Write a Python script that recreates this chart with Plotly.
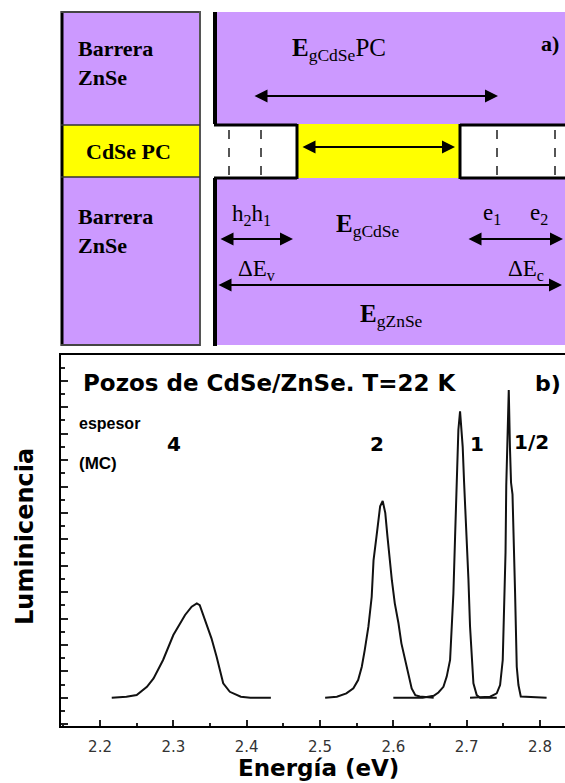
import plotly.graph_objects as go

W, H = 565, 783

# ---------------- data ----------------
energy_4 = [2.216, 2.236, 2.250, 2.264, 2.273, 2.286, 2.300, 2.316, 2.325, 2.332,
            2.336, 2.343, 2.352, 2.359, 2.368, 2.377, 2.392, 2.405, 2.433]
lum_4 = [0.0, 0.08, 0.2, 0.83, 1.47, 2.86, 4.75, 6.27, 6.9, 7.15,
         7.02, 5.89, 4.5, 3.1, 1.09, 0.45, 0.08, 0.0, 0.0]

energy_2 = [2.507, 2.523, 2.536, 2.5455, 2.552, 2.557, 2.561, 2.566, 2.5705, 2.573,
            2.577, 2.582, 2.5855, 2.589, 2.592, 2.595, 2.598, 2.602, 2.607, 2.611,
            2.616, 2.6205, 2.625, 2.630, 2.636, 2.655]
lum_2 = [0.0, 0.08, 0.33, 0.71, 1.34, 2.35, 3.61, 5.38, 7.65, 10.4,
         12.2, 14.5, 14.9, 14.0, 12.2, 10.4, 8.9, 7.15, 5.64, 4.12,
         2.86, 1.59, 0.71, 0.2, 0.1, 0.0]

energy_1 = [2.600, 2.640, 2.655, 2.6615, 2.6683, 2.6728, 2.6774, 2.6796, 2.6819, 2.6842,
            2.6865, 2.6887, 2.691, 2.6946, 2.6965, 2.7001, 2.7024, 2.7046, 2.7069, 2.7092,
            2.7137, 2.7183, 2.741]
lum_1 = [0.0, 0.0, 0.15, 0.4, 0.83, 1.6, 2.86, 5.4, 7.9, 12.2,
         16.7, 20.3, 21.7, 19.0, 16.3, 12.2, 9.0, 5.4, 2.86, 1.1,
         0.2, 0.0, 0.0]

energy_half = [2.7046, 2.732, 2.741, 2.7456, 2.7492, 2.751, 2.753, 2.754, 2.756, 2.7574,
               2.759, 2.7605, 2.7625, 2.7645, 2.766, 2.7683, 2.7706, 2.7738, 2.809]
lum_half = [0.0, 0.08, 0.33, 0.96, 2.86, 6.6, 11.0, 16.1, 20.0, 23.3,
            19.0, 16.3, 15.4, 11.6, 8.0, 2.35, 0.96, 0.1, 0.0]

x_tick_vals = [2.2, 2.3, 2.4, 2.5, 2.6, 2.7, 2.8]
x_tick_text = ["2.2", "2.3", "2.4", "2.5", "2.6", "2.7", "2.8"]

peak_labels = ["4", "2", "1", "1/2"]
peak_label_x = [2.301, 2.578, 2.714, 2.789]
peak_label_y = [19.2, 19.2, 19.2, 19.4]

# ---------------- helpers (pixel -> paper) ----------------
def px(x):
    return x / W


def py(y):
    return 1 - y / H


PURPLE = "#CC99FF"
YELLOW = "#FFFF00"
shapes = []
annotations = []


def rect(x0, y0, x1, y1, fill):
    shapes.append(dict(type="rect", xref="paper", yref="paper",
                       x0=px(x0), x1=px(x1), y0=py(y1), y1=py(y0),
                       fillcolor=fill, line=dict(width=0), layer="below"))


def line(x0, y0, x1, y1, color="black", width=2, dash="solid"):
    shapes.append(dict(type="line", xref="paper", yref="paper",
                       x0=px(x0), x1=px(x1), y0=py(y0), y1=py(y1),
                       line=dict(color=color, width=width, dash=dash)))


def text(x, y, t, size, family="Liberation Serif", xanchor="left", color="black", angle=0):
    annotations.append(dict(xref="paper", yref="paper", x=px(x), y=py(y), text=t,
                            showarrow=False, xanchor=xanchor, yanchor="middle",
                            align="left", textangle=angle,
                            font=dict(family=family, size=size, color=color)))


def darrow(x0, x1, y):
    annotations.append(dict(xref="paper", yref="paper", x=px(x1), y=py(y),
                            ax=-(x1 - x0), ay=0, text="", showarrow=True,
                            arrowhead=2, startarrowhead=2, arrowside="end+start",
                            arrowsize=1.3, startarrowsize=1.3,
                            arrowwidth=2, arrowcolor="black"))


# ---------------- top diagram (a) ----------------
# left legend column
rect(61, 12, 200, 125, PURPLE)
rect(61, 125, 200, 177, YELLOW)
rect(61, 177, 200, 345, PURPLE)
line(62, 11, 62, 346, "black", 3)
line(61, 12, 200, 12, "#444444", 2)
line(200, 11, 200, 346, "#555555", 2)
line(61, 345, 200, 345, "#444444", 2)
line(61, 125, 200, 125, "#333333", 1.5)
line(61, 177, 200, 177, "#333333", 1.5)

# band diagram
rect(215, 12, 565, 124, PURPLE)
rect(297, 124, 460, 178, YELLOW)
rect(215, 178, 565, 345, PURPLE)
line(215, 12, 215, 124, "black", 4)
line(215, 178, 215, 346, "black", 4)
line(214, 125, 297, 125, "black", 3)
line(297, 124, 297, 179, "black", 3)
line(214, 178, 297, 178, "black", 3)
line(460, 125, 565, 125, "black", 3)
line(460, 124, 460, 179, "black", 3)
line(460, 178, 565, 178, "black", 3)
for xd in (229, 261, 497, 555):
    line(xd, 130, xd, 175, "#555555", 2, "dash")

text(76, 63, "<b>Barrera<br>ZnSe</b>", 22)
text(128, 151, "<b>CdSe PC</b>", 22, xanchor="center")
text(76, 231, "<b>Barrera<br>ZnSe</b>", 22)

text(290, 50, "<b>E</b><sub>gCdSe</sub>PC", 25)
text(539, 44, "<b>a)</b>", 22)
darrow(253, 498, 96)
darrow(301, 455, 147)

text(230, 215, "h<sub>2</sub>h<sub>1</sub>", 23)
darrow(219, 293, 239)
text(236, 270, "ΔE<sub>v</sub>", 23)

text(334, 226, "<b>E</b><sub>gCdSe</sub>", 25)

text(481, 214, "e<sub>1</sub>", 23)
text(528, 214, "e<sub>2</sub>", 23)
darrow(467, 563, 239)
text(506, 270, "ΔE<sub>c</sub>", 23)

darrow(217, 562, 285)
text(358, 315, "<b>E</b><sub>gZnSe</sub>", 25)

# ---------------- spectrum (b) ----------------
fig = go.Figure()
for ex, ly in ((energy_4, lum_4), (energy_2, lum_2), (energy_1, lum_1), (energy_half, lum_half)):
    fig.add_trace(go.Scatter(x=ex, y=ly, mode="lines",
                             line=dict(color="#111111", width=2),
                             showlegend=False, hoverinfo="skip"))

for lab, lx, lyv in zip(peak_labels, peak_label_x, peak_label_y):
    annotations.append(dict(xref="x", yref="y", x=lx, y=lyv, text="<b>%s</b>" % lab,
                            showarrow=False, xanchor="center", yanchor="middle",
                            font=dict(family="DejaVu Sans", size=20, color="black")))

SANS = "DejaVu Sans"
text(81, 383, "<b>Pozos de CdSe/ZnSe. T=22 K</b>", 23, family=SANS)
text(563, 383, "<b>b)</b>", 22, family=SANS, xanchor="right")
text(77, 423, "<b>espesor</b>", 16, family="Liberation Sans")
text(77, 463, "<b>(MC)</b>", 17, family="Liberation Sans")
text(25, 537, "<b>Luminicencia</b>", 24, family=SANS, xanchor="center", angle=-90)
text(318, 768, "<b>Energía (eV)</b>", 23, family=SANS, xanchor="center")

fig.update_layout(
    width=W, height=H, autosize=False,
    margin=dict(l=0, r=0, t=0, b=0, pad=0),
    paper_bgcolor="white", plot_bgcolor="rgba(0,0,0,0)",
    shapes=shapes, annotations=annotations,
    xaxis=dict(domain=[px(61), 1], range=[2.1468, 2.8341],
               showline=True, linecolor="black", linewidth=2, mirror=True,
               showgrid=False, zeroline=False,
               tickvals=x_tick_vals, ticktext=x_tick_text,
               ticks="inside", ticklen=6, tickwidth=2, tickcolor="#222222",
               ticklabelstandoff=6,
               tickfont=dict(family="DejaVu Sans", size=15, color="#333333"),
               minor=dict(dtick=0.05, tick0=2.2, ticks="inside", ticklen=3,
                          tickwidth=2, tickcolor="#222222", showgrid=False)),
    yaxis=dict(domain=[py(726), py(355)], range=[-2.14, 25.96],
               showline=True, linecolor="black", linewidth=2,
               showgrid=False, zeroline=False, showticklabels=False,
               tick0=0, dtick=2, ticks="inside", ticklen=7, tickwidth=2,
               tickcolor="#222222",
               minor=dict(dtick=1, ticks="inside", ticklen=4, tickwidth=2,
                          tickcolor="#222222", showgrid=False)),
)

fig.write_html("out.html",
               config={"displayModeBar": False},
               post_script="document.body.style.margin='0';"
                           "document.body.style.overflow='hidden';")
